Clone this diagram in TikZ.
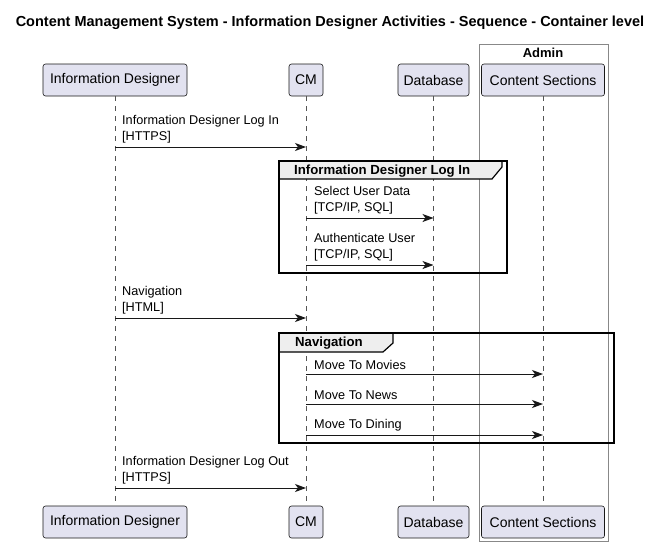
\documentclass[tikz,border=0pt]{standalone}
\usepackage{fontspec}
\setmainfont{Liberation Sans}
\usetikzlibrary{arrows.meta}
\definecolor{partfill}{HTML}{E2E2F0}
\definecolor{partline}{HTML}{181818}
\definecolor{grpfill}{HTML}{EEEEEE}
\definecolor{boxline}{HTML}{888888}
\definecolor{lifeline}{HTML}{555555}
\begin{document}
\begin{tikzpicture}[x=1pt,y=-1pt,
  participant/.style={draw=partline, fill=partfill, rounded corners=2.5pt, line width=0.6pt,
    minimum height=32pt, inner sep=0pt, font=\fontsize{14}{16}\selectfont},
  life/.style={draw=lifeline, line width=0.6pt, dash pattern=on 5pt off 5pt},
  msg/.style={draw=partline, line width=0.9pt, -{Stealth[length=11pt,width=8pt,inset=3pt]}},
  msglabel/.style={anchor=south west, align=left, inner sep=0pt, font=\fontsize{12.7}{15.5}\selectfont},
  grpframe/.style={draw=black, line width=1.6pt},
  grptab/.style={draw=black, line width=1.2pt, fill=grpfill},
  grplabel/.style={font=\bfseries\fontsize{13.2}{15}\selectfont, inner sep=0pt},
  adminbox/.style={draw=boxline, line width=0.8pt}
]
\useasboundingbox (0,0) rectangle (667,547);

% title
\node[font=\bfseries\fontsize{14.5}{16}\selectfont, inner sep=0pt] (title) at (330,22.5) {Content Management System - Information Designer Activities - Sequence - Container level};

% admin box
\draw[adminbox] (479,44) rectangle (608,541);
\node[font=\bfseries\fontsize{13}{15}\selectfont, inner sep=0pt] (admin) at (543,53) {Admin};

% participants top
\node[participant, minimum width=144pt] (idt) at (115,80) {Information Designer};
\node[participant, minimum width=34pt] (cmt) at (306,80) {CM};
\node[participant, minimum width=71pt] (dbt) at (433.5,80) {Database};
\node[participant, minimum width=123pt] (cst) at (543,80) {Content Sections};
% participants bottom
\node[participant, minimum width=144pt] (idb) at (115,522) {Information Designer};
\node[participant, minimum width=34pt] (cmb) at (306,522) {CM};
\node[participant, minimum width=71pt] (dbb) at (433.5,522) {Database};
\node[participant, minimum width=123pt] (csb) at (543,522) {Content Sections};

% lifelines
\draw[life] (idt.south) -- (idb.north);
\draw[life] (cmt.south) -- (cmb.north);
\draw[life] (dbt.south) -- (dbb.north);
\draw[life] (cst.south) -- (csb.north);

% group frames
\draw[grptab] (279,161) -- (502,161) -- (502,167) -- (492,179) -- (279,179) -- cycle;
\node[grplabel, anchor=west] (g1) at (294,171) {Information Designer Log In};
\draw[grpframe] (279,161) rectangle (507,273);

\draw[grptab] (279,333) -- (393,333) -- (393,343) -- (383,352) -- (279,352) -- cycle;
\node[grplabel, anchor=west] (g2) at (295,343) {Navigation};
\draw[grpframe] (279,333) rectangle (614,443);

% message endpoints
\coordinate (m1a) at (idt.south |- 0,147);  \coordinate (m1b) at (cmt.south |- 0,147);
\coordinate (m2a) at (cmt.south |- 0,218);  \coordinate (m2b) at (dbt.south |- 0,218);
\coordinate (m3a) at (cmt.south |- 0,265);  \coordinate (m3b) at (dbt.south |- 0,265);
\coordinate (m4a) at (idt.south |- 0,318);  \coordinate (m4b) at (cmt.south |- 0,318);
\coordinate (m5a) at (cmt.south |- 0,374);  \coordinate (m5b) at (cst.south |- 0,374);
\coordinate (m6a) at (cmt.south |- 0,404);  \coordinate (m6b) at (cst.south |- 0,404);
\coordinate (m7a) at (cmt.south |- 0,435);  \coordinate (m7b) at (cst.south |- 0,435);
\coordinate (m8a) at (idt.south |- 0,488);  \coordinate (m8b) at (cmt.south |- 0,488);

\draw[msg] (m1a) -- (m1b);
\node[msglabel] (l1) at (122,143) {Information Designer Log In\\{[}HTTPS{]}};
\draw[msg] (m2a) -- (m2b);
\node[msglabel] (l2) at (314,214) {Select User Data\\{[}TCP/IP, SQL{]}};
\draw[msg] (m3a) -- (m3b);
\node[msglabel] (l3) at (314,261) {Authenticate User\\{[}TCP/IP, SQL{]}};
\draw[msg] (m4a) -- (m4b);
\node[msglabel] (l4) at (122,314) {Navigation\\{[}HTML{]}};
\draw[msg] (m5a) -- (m5b);
\node[msglabel] (l5) at (314,370) {Move To Movies};
\draw[msg] (m6a) -- (m6b);
\node[msglabel] (l6) at (314,400) {Move To News};
\draw[msg] (m7a) -- (m7b);
\node[msglabel] (l7) at (314,431) {Move To Dining};
\draw[msg] (m8a) -- (m8b);
\node[msglabel] (l8) at (122,484) {Information Designer Log Out\\{[}HTTPS{]}};
\end{tikzpicture}
\end{document}
